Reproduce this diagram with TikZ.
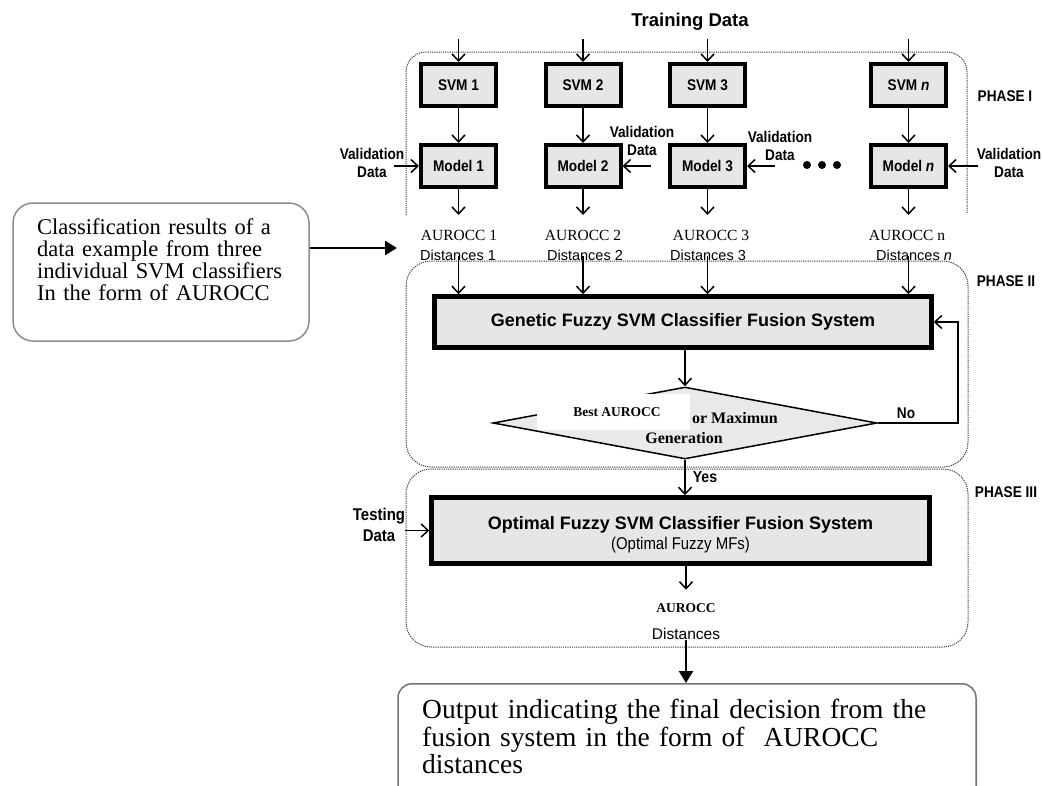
\documentclass[tikz,border=0pt]{standalone}
\usepackage{fontspec}
\setmainfont{Liberation Serif}
\setsansfont{Liberation Sans}
\newfontfamily\nsans[FakeStretch=0.88]{Liberation Sans}
\usetikzlibrary{arrows.meta,shapes.geometric}
\definecolor{boxgray}{HTML}{E6E6E6}
\definecolor{diagray}{HTML}{E9E9E9}
\newcommand{\myfs}[2]{\fontsize{#1}{#2}\selectfont}
\begin{document}
\begin{tikzpicture}[x=1pt,y=-1pt,
  blk/.style={draw,line width=4pt,fill=boxgray,minimum width=75pt,minimum height=42pt,inner sep=0pt,font=\nsans\bfseries\myfs{15.5}{18}},
  bigblk/.style={draw,line width=4.5pt,fill=boxgray,inner sep=0pt,align=center},
  arr/.style={line width=1.5pt,-{Straight Barb[length=7pt,width=13pt]}},
  bigarr/.style={line width=2.5pt,-{Triangle[length=12pt,width=14pt]}},
  phasebox/.style={draw=black!75,line width=1pt,dash pattern=on 1.2pt off 1pt},
  lbl/.style={inner sep=0pt,font=\nsans\bfseries\myfs{15.5}{18},align=center},
  phaselbl/.style={inner sep=0pt,font=\nsans\bfseries\myfs{15.5}{18}},
  aur/.style={inner sep=0pt,font=\rmfamily\myfs{15.5}{18}},
  dist/.style={inner sep=0pt,font=\sffamily\myfs{14.5}{17}},
  roundbox/.style={draw=black!45,line width=1.5pt}
]
\useasboundingbox (0,0) rectangle (1042,785);
\fill[white] (0,0) rectangle (1042,785);

% phase frames
\draw[phasebox,rounded corners=20pt] (406,215) -- (406,52) -- (967,52) -- (967,213);
\draw[phasebox,rounded corners=25pt] (406,261) rectangle (968,467);
\draw[phasebox,rounded corners=25pt] (406,469) rectangle (968,647);

\node[inner sep=0pt,font=\sffamily\bfseries\myfs{18.5}{20}] (train) at (690,22) {Training Data};

% SVM boxes
\node[blk] (s1) at (458.5,85) {SVM 1};
\node[blk] (s2) at (583,85) {SVM 2};
\node[blk] (s3) at (707.5,85) {SVM 3};
\node[blk] (sn) at (908.5,85) {SVM \textit{n}};
% Model boxes
\node[blk] (m1) at (458.5,166) {Model 1};
\node[blk] (m2) at (583,166) {Model 2};
\node[blk] (m3) at (707.5,166) {Model 3};
\node[blk] (mn) at (908.5,166) {Model \textit{n}};

\foreach \i in {s1,s2,s3,sn}{\draw[arr] ([yshift=23pt]\i.north) -- (\i.north);}
\draw[arr] (s1) -- (m1);
\draw[arr] (s2) -- (m2);
\draw[arr] (s3) -- (m3);
\draw[arr] (sn) -- (mn);

% validation data
\node[lbl] (v1) at (372,163) {Validation\\Data};
\node[lbl] (v2) at (642,141) {Validation\\Data};
\node[lbl] (v3) at (780,146) {Validation\\Data};
\node[lbl] (vn) at (1009,163) {Validation\\Data};
\draw[arr] ([xshift=-25pt]m1.west) -- (m1.west);
\draw[arr] ([xshift=28pt]m2.east) -- (m2.east);
\draw[arr] ([xshift=28pt]m3.east) -- (m3.east);
\draw[arr] ([xshift=30pt]mn.east) -- (mn.east);
\fill (807,165) circle[radius=4pt];
\fill (822,165) circle[radius=4pt];
\fill (837,165) circle[radius=4pt];

\node[phaselbl] (p1) at (1005,96) {PHASE I};
\node[phaselbl] (p2) at (1006,281) {PHASE II};
\node[phaselbl] (p3) at (1006,492) {PHASE III};

% AUROCC labels
\node[aur] (a1) at (459,235) {AUROCC 1};
\node[aur] (a2) at (583,235) {AUROCC 2};
\node[aur] (a3) at (711,235) {AUROCC 3};
\node[aur] (an) at (907,235) {AUROCC n};
\node[dist] (d1) at (458,255) {Distances 1};
\node[dist] (d2) at (585,255) {Distances 2};
\node[dist] (d3) at (708,255) {Distances 3};
\node[dist] (dn) at (914,255) {Distances \textit{n}};
\foreach \i in {m1,m2,m3,mn}{\draw[arr] (\i.south) -- ++(0,26);}

% Phase II
\node[bigblk,minimum width=497pt,minimum height=51pt,font=\sffamily\bfseries\myfs{18}{20}] (gen) at (683,322) {Genetic Fuzzy SVM Classifier Fusion System};
\foreach \i in {m1,m2,m3,mn}{\draw[arr] (\i |- 0,256) -- (\i |- gen.north);}

\node[diamond,aspect=5.33,draw,line width=1.5pt,fill=diagray,minimum width=384pt,minimum height=72pt,inner sep=0pt] (dia) at (685,423) {};
\fill[white] (537,394) rectangle (690,430);
\node[inner sep=0pt,font=\rmfamily\bfseries\myfs{13.5}{15}] (best) at (617,412) {Best AUROCC};
\node[inner sep=0pt,font=\rmfamily\bfseries\myfs{16}{18}] (maxg) at (735,418) {or Maximun};
\node[inner sep=0pt,font=\rmfamily\bfseries\myfs{16}{18}] (gener) at (684,438) {Generation};
\draw[arr] (gen.south -| dia.north) -- (dia.north);
\draw[arr] (dia.east) -- ++(80,0) |- (gen.east);
\node[lbl] (no) at (906,413) {No};

% Phase III
\node[bigblk,minimum width=498pt,minimum height=66pt] (opt) at (680.5,530.5) {};
\node[inner sep=0pt,align=center] (opttext) at (680.5,535) {{\sffamily\bfseries\myfs{18}{21}Optimal Fuzzy SVM Classifier Fusion System}\\[3pt]{\nsans\myfs{17}{19}(Optimal Fuzzy MFs)}};
\draw[arr] (dia.south) -- (dia.south |- opt.north);
\node[lbl,font=\nsans\bfseries\myfs{16}{18}] (yes) at (705,477) {Yes};
\node[lbl,font=\nsans\bfseries\myfs{17}{21}] (test) at (379,525) {Testing\\Data};
\draw[arr] ([xshift=-24pt]opt.west) -- (opt.west);
\node[inner sep=0pt,font=\rmfamily\bfseries\myfs{13.5}{15}] (aurf) at (686,608) {AUROCC};
\node[inner sep=0pt,font=\sffamily\myfs{15.5}{17}] (distf) at (686,634) {Distances};
\draw[arr] (opt.south -| aurf) -- ++(0,24);

% output box
\node[roundbox,draw=black!55,rounded corners=14pt,minimum width=578pt,minimum height=130pt,anchor=north] (outbox) at (687,683) {};
\node[inner sep=0pt,anchor=north west,text width=560pt,align=left,font=\rmfamily\myfs{27.5}{27.5}] (outtext) at (422,699) {Output indicating the final decision from the\\fusion system in the form of\hspace{19pt}AUROCC\\distances};
\draw[bigarr] (distf.south) -- (distf.south |- outbox.north);

% callout
\node[roundbox,rounded corners=20pt,minimum width=296pt,minimum height=138pt] (callout) at (161,272) {};
\node[inner sep=0pt,anchor=north west,text width=280pt,align=left,font=\rmfamily\myfs{22.5}{22}] (calltext) at (37,218) {Classification results of a\\data example from three\\individual SVM classifiers\\In the form of AUROCC};
\coordinate (ctip) at (397,248);
\draw[bigarr] (callout.east |- ctip) -- (ctip);
\end{tikzpicture}
\end{document}
